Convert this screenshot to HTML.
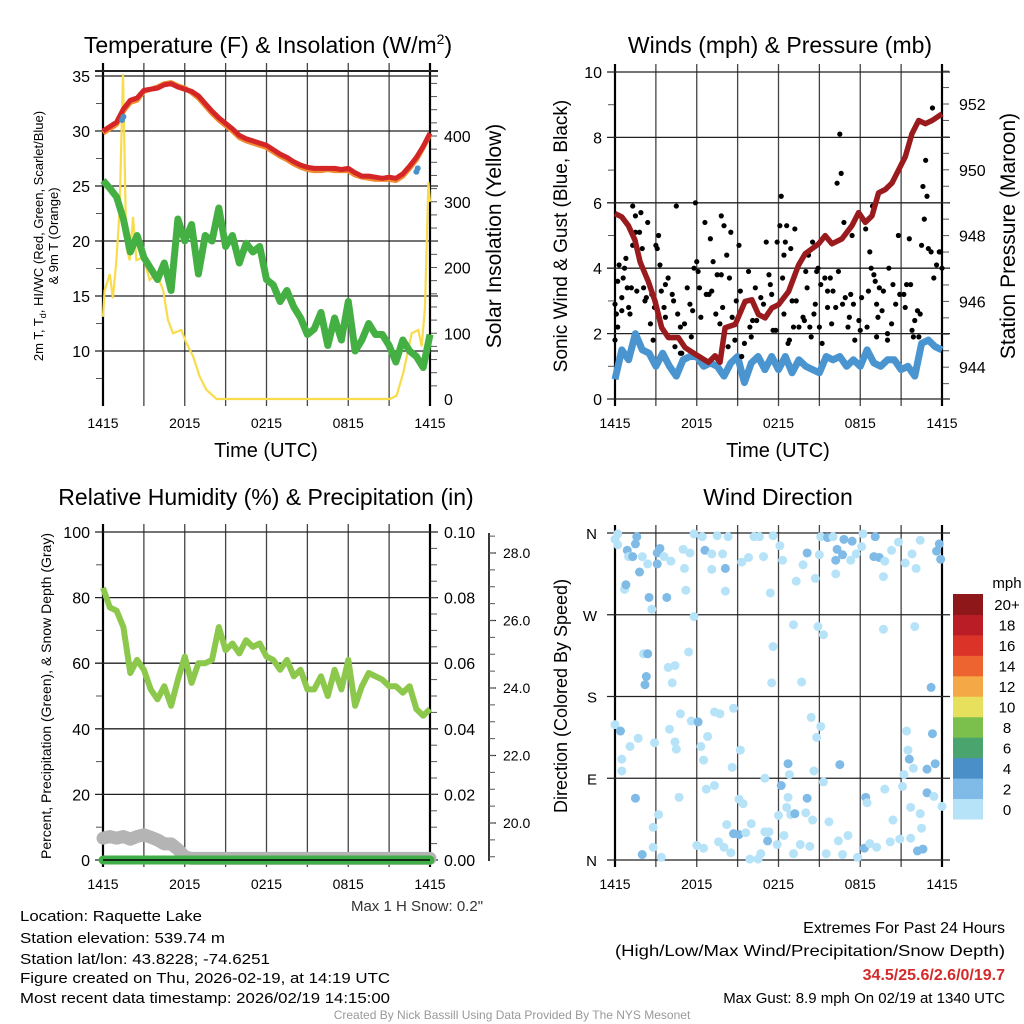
<!DOCTYPE html>
<html><head><meta charset="utf-8">
<style>
html,body{margin:0;padding:0;background:#fff;}
svg{display:block;font-family:"Liberation Sans",Arial,sans-serif;}
</style></head>
<body>
<svg id="fig" width="1024" height="1024" viewBox="0 0 1024 1024" xmlns="http://www.w3.org/2000/svg">
<rect x="0" y="0" width="1024" height="1024" fill="#fff"/>
<g id="layer-bg"></g>
<g id="layer-data"></g>
<g id="layer-fg"></g>
<!-- titles -->
<text x="268" y="53" font-size="23" text-anchor="middle">Temperature (F) &amp; Insolation (W/m<tspan dy="-9" font-size="14">2</tspan><tspan dy="9">)</tspan></text>
<text x="780" y="53" font-size="23" text-anchor="middle">Winds (mph) &amp; Pressure (mb)</text>
<text x="266" y="505" font-size="23" text-anchor="middle">Relative Humidity (%) &amp; Precipitation (in)</text>
<text x="778" y="505" font-size="23" text-anchor="middle">Wind Direction</text>
<!-- axis titles -->
<text x="266" y="457" font-size="20" text-anchor="middle">Time (UTC)</text>
<text x="778" y="457" font-size="20" text-anchor="middle">Time (UTC)</text>
<text transform="translate(43,236) rotate(-90)" font-size="13" text-anchor="middle">2m T, T<tspan dy="3" font-size="9">d</tspan><tspan dy="-3">, HI/WC (Red, Green, Scarlet/Blue)</tspan></text>
<text transform="translate(58,236) rotate(-90)" font-size="13" text-anchor="middle">&amp; 9m T (Orange)</text>
<text transform="translate(501,236) rotate(-90)" font-size="21" text-anchor="middle">Solar Insolation (Yellow)</text>
<text transform="translate(567,236) rotate(-90)" font-size="19" text-anchor="middle">Sonic Wind &amp; Gust (Blue, Black)</text>
<text transform="translate(1015,236) rotate(-90)" font-size="21" text-anchor="middle">Station Pressure (Maroon)</text>
<text transform="translate(51,696) rotate(-90)" font-size="14" text-anchor="middle">Percent, Precipitation (Green), &amp; Snow Depth (Gray)</text>
<text transform="translate(567,696) rotate(-90)" font-size="18" text-anchor="middle">Direction (Colored By Speed)</text>
<text x="417" y="911" font-size="15" fill="#333" text-anchor="middle">Max 1 H Snow: 0.2"</text>
<!-- station info -->
<g font-size="15" fill="#000">
<text x="20" y="921" textLength="182" lengthAdjust="spacingAndGlyphs">Location: Raquette Lake</text>
<text x="20" y="943" textLength="205" lengthAdjust="spacingAndGlyphs">Station elevation: 539.74 m</text>
<text x="20" y="964" textLength="250" lengthAdjust="spacingAndGlyphs">Station lat/lon: 43.8228; -74.6251</text>
<text x="20" y="983" textLength="370" lengthAdjust="spacingAndGlyphs">Figure created on Thu, 2026-02-19, at 14:19 UTC</text>
<text x="20" y="1003" textLength="370" lengthAdjust="spacingAndGlyphs">Most recent data timestamp: 2026/02/19 14:15:00</text>
</g>
<g font-size="16" text-anchor="end">
<text x="1005" y="933">Extremes For Past 24 Hours</text>
<text x="1005" y="956" textLength="390" lengthAdjust="spacingAndGlyphs">(High/Low/Max Wind/Precipitation/Snow Depth)</text>
<text x="1005" y="980" fill="#d42a2a" font-weight="bold">34.5/25.6/2.6/0/19.7</text>
<text x="1005" y="1003" font-size="15">Max Gust: 8.9 mph On 02/19 at 1340 UTC</text>
</g>
<text x="512" y="1019" font-size="12" fill="#999" text-anchor="middle">Created By Nick Bassill Using Data Provided By The NYS Mesonet</text>
</svg>
<script>
// ---------- data ----------
const xTickLabels = ["1415","2015","0215","0815","1415"];
const halfHours = [0,0.5,1,1.5,2,2.5,3,3.5,4,4.5,5,5.5,6,6.5,7,7.5,8,8.5,9,9.5,10,10.5,11,11.5,12,12.5,13,13.5,14,14.5,15,15.5,16,16.5,17,17.5,18,18.5,19,19.5,20,20.5,21,21.5,22,22.5,23,23.5,24];
const temp2m = [30.0,30.4,30.8,32.0,32.8,33.0,33.7,33.8,33.9,34.2,34.3,34.0,33.8,33.6,33.2,32.5,31.8,31.2,30.7,30.2,29.6,29.3,29.1,28.9,28.7,28.3,27.9,27.6,27.2,26.9,26.7,26.6,26.6,26.6,26.6,26.5,26.6,26.2,25.9,25.9,25.8,25.7,25.8,25.7,26.1,26.8,27.6,28.6,29.8];
const temp9m = [29.8,30.2,30.6,31.8,32.6,32.8,33.6,33.8,34.0,34.3,34.4,34.1,33.9,33.5,33.0,32.3,31.6,31.0,30.5,30.0,29.4,29.1,28.9,28.7,28.5,28.1,27.7,27.4,27.0,26.7,26.5,26.4,26.4,26.5,26.4,26.4,26.4,26.0,25.8,25.7,25.6,25.6,25.6,25.5,25.9,26.6,27.4,28.5,29.7];
const dewpoint = [25.5,24.8,24,22,19,20.5,18.5,17.5,16.5,18,15.5,22,20,21.5,17,20.5,20,23,19.5,20.5,18,19.8,19,19.5,16.5,16,14.5,15.5,14,13,11.5,12,13.5,10.5,13,11,14.5,10,11,12.5,11.5,11.5,10.5,9,11,10,9.5,8.5,11.5];
const wcTimes = [1.4,1.5,23.0,23.1];
const wcValues = [31.0,31.3,26.3,26.6];
const solarTimes = [0,0.12,0.5,0.73,0.98,1.22,1.47,1.71,1.96,2.2,2.45,2.94,3.43,3.92,4.41,4.77,5.14,5.75,6.12,6.61,7.1,7.59,8.33,21.06,21.55,22.04,22.66,23.14,23.39,23.63,23.88,24];
const solarValues = [125,165,190,153,211,287,494,231,211,277,211,216,181,191,166,120,100,105,85,65,34,14,0,0,5,40,100,105,80,140,330,300];
const windSpeed = [0.6,1.5,1.2,2.0,1.5,1.4,1.0,1.4,1.0,0.7,1.2,1.3,1.3,1.0,1.1,1.0,0.7,1.1,1.3,0.5,1.1,1.3,0.9,1.3,0.9,1.3,0.8,1.2,1.0,0.9,0.8,1.3,1.2,1.3,1.0,1.2,1.0,1.5,1.1,1.0,1.2,1.2,0.9,1.0,0.7,1.7,1.8,1.6,1.5];
const pressTimes = [0,0.49,0.98,1.47,1.84,2.45,2.94,3.43,3.92,4.65,5.14,5.88,6.86,7.35,7.71,8.08,8.82,9.55,10.04,10.53,11.02,11.51,12.0,12.74,13.47,13.96,14.45,14.94,15.43,15.92,16.65,17.39,17.88,18.37,18.86,19.35,19.84,20.33,20.82,21.31,21.8,22.29,22.78,23.27,24];
const pressValues = [948.67,948.57,948.3,947.86,947.2,946.6,946.0,945.2,944.9,944.9,944.6,944.4,944.15,944.35,944.15,945.2,945.3,946.0,946.05,945.6,945.5,945.8,945.9,946.3,947.1,947.45,947.6,947.75,948.0,947.75,947.9,948.3,948.7,948.4,948.6,949.3,949.4,949.6,950.0,950.4,951.1,951.5,951.4,951.5,951.7];
const gustTimes = [0,0,0.1,0.2,0.2,0.3,0.5,0.5,0.6,0.7,0.8,0.9,1.0,1.1,1.2,1.3,1.3,1.5,1.5,1.6,1.8,1.9,2.0,2.1,2.2,2.3,2.4,2.6,2.7,2.8,2.9,3.0,3.1,3.2,3.3,3.4,3.6,3.7,3.7,3.9,4.2,4.3,4.4,4.5,4.6,4.8,4.8,4.9,5.1,5.3,5.5,5.6,5.7,5.8,5.9,6.0,6.1,6.2,6.3,6.6,6.7,6.9,7.0,7.1,7.2,7.4,7.5,7.7,7.8,7.8,7.9,8.0,8.2,8.3,8.4,8.5,8.6,8.8,8.9,9.1,9.2,9.3,9.5,9.8,9.9,10.0,10.1,10.3,10.4,10.7,10.9,11.1,11.3,11.4,11.5,11.6,11.8,11.9,12.1,12.2,12.3,12.4,12.4,12.5,12.6,12.7,12.8,12.9,13.0,13.1,13.2,13.3,13.5,13.8,13.9,14.0,14.1,14.2,14.3,14.4,14.5,14.6,14.7,14.8,14.9,15.0,15.1,15.2,15.4,15.6,15.6,15.8,15.9,16.0,16.2,16.3,16.4,16.5,16.6,16.7,16.8,16.9,17.1,17.2,17.3,17.4,17.5,17.6,17.9,18.0,18.1,18.4,18.5,18.6,18.7,18.8,18.9,19.0,19.1,19.2,19.2,19.3,19.4,19.6,19.7,20.0,20.0,20.1,20.3,20.4,20.6,20.8,20.9,21.2,21.3,21.4,21.6,21.7,21.8,21.9,22.0,22.2,22.3,22.4,22.5,22.6,22.7,22.8,22.9,23.0,23.2,23.3,23.4,23.6,23.8,23.9,24.0];
const gustValues = [1.8,2.9,2.6,2.2,3.6,4.1,2.7,3.1,3.7,4.0,4.3,3.4,2.8,2.6,3.4,4.7,5.9,5.6,5.1,3.3,5.1,5.7,4.6,3.4,3.0,3.1,5.4,2.3,3.2,1.8,2.8,4.7,4.6,5.0,4.1,3.3,2.8,2.5,3.5,3.7,3.2,3.0,1.6,5.9,2.6,2.2,1.4,1.4,2.3,3.4,2.9,1.9,2.7,4.0,6.0,4.2,3.9,3.4,2.5,5.4,3.2,3.2,4.9,3.3,4.2,2.6,3.8,2.3,3.8,5.6,2.8,5.3,4.4,1.6,3.7,5.1,2.5,1.8,3.0,4.7,3.3,1.3,1.7,3.9,2.2,1.9,2.4,3.4,2.4,3.1,2.9,4.8,3.8,3.5,3.2,2.1,2.1,4.8,5.3,6.2,3.7,4.4,2.6,4.8,5.3,1.7,1.8,4.6,3.0,2.2,5.2,3.0,2.2,2.5,2.4,3.9,3.4,4.4,2.2,1.9,4.8,2.6,2.9,3.9,4.0,2.2,3.5,1.7,3.7,2.8,3.3,3.7,2.3,3.3,2.8,6.6,3.9,8.1,6.9,2.9,5.4,3.1,2.2,2.5,3.2,5.0,2.9,1.8,2.4,2.1,3.1,5.2,2.2,3.3,4.5,4.0,5.9,3.8,3.6,2.9,1.9,2.5,3.4,2.7,3.3,2.0,1.8,4.0,2.3,3.5,2.9,5.0,3.2,3.2,2.8,3.5,4.9,3.5,2.1,1.9,2.4,2.7,1.9,2.6,4.7,6.5,5.5,7.3,6.2,4.6,4.5,8.9,3.7,4.1,4.5,4.5,4.0];
const rhValues = [83,77,76,71,57,61,58,52,49,53,47,55,62,54,60,60,61,71,64,66,63,67,65,66,62,61,58,61,56,58,52,52,56,50,58,52,61,47,53,57,56,55,53,53,51,53,46,44,46];
const precipValues = [0,0,0,0,0,0,0,0,0,0,0,0,0,0,0,0,0,0,0,0,0,0,0,0,0,0,0,0,0,0,0,0,0,0,0,0,0,0,0,0,0,0,0,0,0,0,0,0,0];
const snowValues = [19.55,19.6,19.55,19.6,19.52,19.6,19.65,19.58,19.5,19.38,19.38,19.22,19.0,18.95,18.95,18.95,18.95,18.95,18.95,18.95,18.95,18.95,18.95,18.95,18.95,18.95,18.95,18.95,18.95,18.95,18.95,18.95,18.95,18.95,18.95,18.95,18.95,18.95,18.95,18.95,18.95,18.95,18.95,18.95,18.95,18.95,18.95,18.95,18.95];
const dirTimes = [0,0.2,0.2,0.9,1.0,1.3,1.5,1.6,2.0,1.8,2.4,3.1,3.1,3.3,3.6,4.1,5.0,5.1,5.2,5.5,5.8,6.4,6.6,7.1,7.1,7.5,7.9,8.1,8.1,8.3,9.3,9.8,10.2,10.6,10.9,11.6,11.4,12.1,12.3,13.3,13.8,14.1,14.7,15.0,15.1,15.6,16.0,16.2,16.2,16.3,16.7,16.8,17.3,17.4,17.7,18.1,18.2,19.1,19.0,19.4,19.7,19.8,20.3,20.8,21.3,21.8,22.1,22.4,23.6,23.8,23.9,2.5,2.7,3.8,0.7,0.8,5.8,13.1,14.9,15.3,19.7,22.0,2.1,2.4,5.4,3.9,4.4,11.6,2.3,2.2,4.2,11.5,13.7,23.2,0,0.4,1.1,1.7,0.5,0.5,2.9,4.0,4.4,4.5,4.8,5.6,6.1,6.3,6.5,6.8,7.3,7.7,8.7,8.6,9.2,12.7,12.8,11.0,14.4,15.1,14.8,14.6,16.5,21.4,21.5,21.6,21.9,21.2,23.3,22.9,23.5,1.5,3.2,2.8,2.8,2.0,3.4,4.7,6.7,7.3,6.0,6.5,7.6,8.0,8.2,8.5,8.7,9.1,9.1,9.4,9.6,10.0,9.9,10.5,10.7,11.0,11.3,11.2,11.9,12.0,12.2,12.4,12.6,12.7,12.9,13.1,13.2,13.6,14.0,14.1,14.3,14.5,15.5,15.3,15.7,16.4,16.7,17.1,17.8,18.3,18.4,18.5,18.7,19.2,19.8,20.4,20.2,20.9,21.1,21.7,21.7,22.4,22.5,22.2,22.6,22.9,23.4,24.0];
const dirDegrees = [353,359,347,341,334,334,348,356,334,317,326,338,326,343,334,329,342,321,297,338,359,356,341,337,320,357,337,321,296,356,328,333,356,356,334,357,294,346,330,307,325,338,310,336,356,355,356,315,330,342,336,353,330,351,337,345,359,356,334,333,312,329,341,350,327,337,321,352,340,348,331,289,276,289,298,303,268,259,257,248,254,257,227,227,229,212,214,235,202,193,195,195,196,190,149,142,125,134,111,98,129,144,130,122,161,153,152,125,110,136,163,161,167,102,121,106,94,90,157,147,135,98,105,142,121,111,101,94,139,100,106,68,50,36,14,6,3,69,78,82,16,13,20,14,39,8,29,28,67,62,30,40,1,1,7,31,31,21,17,49,82,27,58,69,50,7,51,17,52,68,15,44,7,86,42,21,6,27,3,13,69,63,18,14,78,44,20,23,81,58,24,51,35,10,12,74,70,59];
const dirSpeeds = [1,1,1,3,1,3,3,3,1,3,1,3,3,3,1,1,1,1,1,1,1,1,3,1,1,1,1,3,1,1,1,1,1,1,1,1,1,1,1,1,1,3,1,1,1,3,1,1,3,3,3,3,1,3,1,1,1,3,3,3,1,1,1,1,1,1,1,1,3,3,3,3,1,3,1,3,1,1,1,1,1,1,1,3,1,1,1,1,3,3,1,1,1,3,1,3,1,1,1,1,1,1,1,1,1,1,3,1,1,1,1,1,1,1,1,3,1,1,1,1,1,1,3,1,1,3,1,1,3,3,3,3,1,1,1,3,1,1,1,1,1,1,1,1,1,1,3,3,1,1,1,1,1,1,1,1,1,3,1,1,3,1,1,1,1,1,3,1,1,3,1,1,1,1,1,1,1,1,1,3,3,1,1,1,1,1,1,1,1,1,1,1,1,3,3,3,1,1];
const speedBins = ["0","2","4","6","8","10","12","14","16","18","20+"];
const speedColors = ["#b6e3f8","#7fbbe6","#4a8fc7","#4aa46d","#7bc04c","#e6e05c","#f5a946","#ee6430","#dc3328","#bb1d26","#8e1719"];
const tempTicks = [10,15,20,25,30,35];
const solarTicks = [0,100,200,300,400];
const windTicks = [0,2,4,6,8,10];
const pressTicks = [944,946,948,950,952];
const rhTicks = [0,20,40,60,80,100];
const precipTicks = [0,0.02,0.04,0.06,0.08,0.10];
const snowTicks = [20,22,24,26,28];
const dirTicks = [0,90,180,270,360];
const dirLabels = ["N","E","S","W","N"];

// ---------- helpers ----------
const NS = "http://www.w3.org/2000/svg";
const bg = document.getElementById('layer-bg');
const dl = document.getElementById('layer-data');
const fg = document.getElementById('layer-fg');
function mk(tag, attrs, parent){
  const e = document.createElementNS(NS, tag);
  for (const k in attrs) e.setAttribute(k, attrs[k]);
  parent.appendChild(e);
  return e;
}
const X0 = 103, X1 = 430, DX = 512;
function xs(t, off){ return X0 + off + t * (X1 - X0) / 24; }
function pathFrom(ts, vs, off, ys){
  let d = "";
  for (let i = 0; i < ts.length; i++) d += (i ? "L" : "M") + xs(ts[i], off).toFixed(1) + "," + ys(vs[i]).toFixed(1);
  return d;
}
function yTemp(v){ return 76 + (35 - v) * 11; }
function ySol(v){ return 399 - v * 0.6575; }
function yWind(v){ return 399 - v * 32.7; }
function yPres(p){ return 104 + (952 - p) * 32.9; }
function yRH(v){ return 860 - v * 3.28; }
function yPrec(v){ return 860 - v * 3280; }
function ySnow(s){ return 823 - (s - 20) * 33.75; }
function yDir(d){ return 860 - d * 327 / 360; }

function panelGrid(off, yTop, yBot, name){
  for (let i = 0; i <= 8; i++){
    const x = xs(i * 3, off);
    const l = mk('line', {x1:x, x2:x, y1:yTop - 8, y2:yBot + 7, stroke: (i===0||i===8)?'#000':'#444', 'stroke-width': (i===0||i===8)?2.2:1.3}, bg);
    
    
  }
  for (let i = 0; i < xTickLabels.length; i++){
    const t = mk('text', {x: xs(i * 6, off), y: yBot + 29, 'font-size': 14, 'text-anchor': 'middle'}, fg);
    t.textContent = xTickLabels[i];
    
    
  }
}
function hLine(off, y, name, w){
  const l = mk('line', {x1: xs(0, off) - 8, x2: xs(24, off) + 8, y1: y, y2: y, stroke: '#222', 'stroke-width': w || 1.3}, bg);
  
  
}
function leftLabel(off, y, txt, name){
  const t = mk('text', {x: xs(0, off) - 13, y: y + 6, 'font-size': 16, 'text-anchor': 'end'}, fg);
  t.textContent = txt;
  
  
}
function rightLabel(off, y, txt, name, dx){
  const t = mk('text', {x: xs(24, off) + (dx || 14), y: y + 6, 'font-size': 16}, fg);
  t.textContent = txt;
  
  
}
function minorTicks(x, y, dir){
  const l = mk('line', {x1: x, x2: x + dir * 6, y1: y, y2: y, stroke: '#555', 'stroke-width': 1}, bg);
  
  
}

// ---------- panel 1: temperature ----------
panelGrid(0, 71, 399, 'temperature');
hLine(0, 71, 'temperature-frame-top', 2);
tempTicks.forEach(v => { hLine(0, yTemp(v), 'temperature-grid-line'); leftLabel(0, yTemp(v), String(v), 'temperature-tick-label'); if (v < 35) minorTicks(X0 - 7, yTemp(v + 2.5), 1); });
minorTicks(X0 - 7, yTemp(7.5), 1);
solarTicks.forEach(v => { rightLabel(0, ySol(v), String(v), 'solar-tick-label'); });
for (let v = 20; v <= 480; v += 20) minorTicks(X1 + 1, ySol(v), 1);
{
  const p = mk('path', {d: pathFrom(solarTimes, solarValues, 0, ySol), fill: 'none', stroke: '#f8dc4c', 'stroke-width': 2.2}, dl);
  
  
  const g = mk('path', {d: pathFrom(halfHours, dewpoint, 0, yTemp), fill: 'none', stroke: '#44b044', 'stroke-width': 7, 'stroke-linejoin': 'round'}, dl);
  
  
  const o = mk('path', {d: pathFrom(halfHours, temp9m, 0, yTemp), fill: 'none', stroke: '#f08a30', 'stroke-width': 5, 'stroke-linejoin': 'round'}, dl);
  
  
  const r = mk('path', {d: pathFrom(halfHours, temp2m, 0, yTemp), fill: 'none', stroke: '#d52627', 'stroke-width': 5, 'stroke-linejoin': 'round'}, dl);
  
  
  for (let i = 0; i < wcTimes.length; i++){
    const c = mk('circle', {cx: xs(wcTimes[i], 0), cy: yTemp(wcValues[i]), r: 3, fill: '#4a90c9'}, dl);
    
    
  }
}

// ---------- panel 2: winds ----------
panelGrid(DX, 72, 399, 'winds');
windTicks.forEach(v => { hLine(DX, yWind(v), 'wind-grid-line'); leftLabel(DX, yWind(v), String(v), 'wind-tick-label'); if (v < 10) minorTicks(X0 + DX - 7, yWind(v + 1), 1); });
pressTicks.forEach(v => { rightLabel(DX, yPres(v), String(v), 'pressure-tick-label', 17); });
for (let v = 943.5; v <= 953; v += 0.5) minorTicks(X1 + DX + 1, yPres(v), 1);
{
  const b = mk('path', {d: pathFrom(halfHours, windSpeed, DX, yWind), fill: 'none', stroke: '#4a95d0', 'stroke-width': 7, 'stroke-linejoin': 'round'}, dl);
  
  
  for (let i = 0; i < gustTimes.length; i++){
    const c = mk('circle', {cx: xs(gustTimes[i], DX), cy: yWind(gustValues[i]), r: 2.6, fill: '#000'}, dl);
    
    
  }
  const m = mk('path', {d: pathFrom(pressTimes, pressValues, DX, yPres), fill: 'none', stroke: '#9a1b1e', 'stroke-width': 5.5, 'stroke-linejoin': 'round'}, dl);
  
  
}

// ---------- panel 3: humidity ----------
panelGrid(0, 532, 860, 'humidity');
rhTicks.forEach(v => { hLine(0, yRH(v), 'humidity-grid-line'); leftLabel(0, yRH(v), String(v), 'humidity-tick-label'); if (v < 100) minorTicks(X0 - 7, yRH(v + 10), 1); });
precipTicks.forEach(v => { rightLabel(0, yPrec(v), v.toFixed(2), 'precip-tick-label', 14); });
for (let v = 0.005; v < 0.1; v += 0.005) minorTicks(X1 + 1, yPrec(v), 1);
{
  const ax = mk('line', {x1: 489, x2: 489, y1: 533, y2: 861, stroke: '#222', 'stroke-width': 1.8}, bg);
  
  
  snowTicks.forEach(v => {
    const tk = mk('line', {x1: 489, x2: 496, y1: ySnow(v), y2: ySnow(v), stroke: '#222', 'stroke-width': 1.2}, bg);
    
    
    const t = mk('text', {x: 503, y: ySnow(v) + 5, 'font-size': 14}, fg);
    t.textContent = v.toFixed(1);
    
    
  });
  for (let v = 19; v <= 29; v += 0.5) { if (ySnow(v) > 533 && ySnow(v) < 861) minorTicks(489, ySnow(v), 1); }
  const s = mk('path', {d: pathFrom(halfHours, snowValues, 0, ySnow), fill: 'none', stroke: '#b4b4b4', 'stroke-width': 13, 'stroke-linecap': 'round', 'stroke-linejoin': 'round'}, dl);
  
  
  const pr = mk('path', {d: pathFrom(halfHours, precipValues, 0, yPrec), fill: 'none', stroke: '#3fae49', 'stroke-width': 9, 'stroke-linecap': 'round'}, dl);
  
  
  const h = mk('path', {d: pathFrom(halfHours, rhValues, 0, yRH), fill: 'none', stroke: '#8cc84b', 'stroke-width': 6, 'stroke-linejoin': 'round'}, dl);
  
  
  const bl = mk('line', {x1: X0, x2: X1, y1: 860, y2: 860, stroke: '#000', 'stroke-width': 1.5}, dl);
  
  
}

// ---------- panel 4: wind direction ----------
panelGrid(DX, 533, 860, 'direction');
dirTicks.forEach((v, i) => {
  hLine(DX, yDir(v), 'direction-grid-line');
  const t = mk('text', {x: 597, y: yDir(v) + 6, 'font-size': 15, 'text-anchor': 'end'}, fg);
  t.textContent = dirLabels[i];
  
  
});
for (let i = 0; i < dirTimes.length; i++){
  const sp = (dirSpeeds[i] === undefined) ? 1 : dirSpeeds[i];
  const bin = Math.min(10, Math.floor(sp / 2));
  const c = mk('circle', {cx: xs(dirTimes[i], DX), cy: yDir(dirDegrees[i]), r: 4.5, fill: speedColors[bin]}, dl);
  
  
}
{
  const cbTop = 594, cbBot = 819, h = (cbBot - cbTop) / speedBins.length;
  for (let i = 0; i < speedBins.length; i++){
    const y = cbBot - (i + 1) * h;
    const r = mk('rect', {x: 953, y: y, width: 30, height: h + 0.5, fill: speedColors[i]}, fg);
    
    
    const t = mk('text', {x: 1007, y: y + h / 2 + 6, 'font-size': 15, 'text-anchor': 'middle'}, fg);
    t.textContent = speedBins[i];
    
    
  }
  const u = mk('text', {x: 1007, y: 588, 'font-size': 15, 'text-anchor': 'middle'}, fg);
  u.textContent = 'mph';
  
  
}
</script>
</body></html>
